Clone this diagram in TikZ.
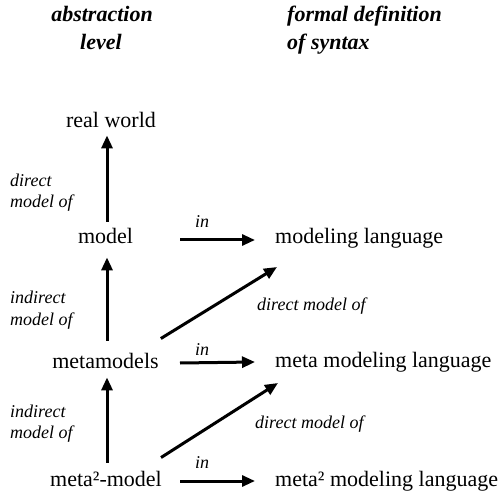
\documentclass[tikz,border=0pt]{standalone}
\usepackage{fontspec}
\setmainfont{Liberation Serif}
\usetikzlibrary{arrows.meta}
\begin{document}
\begin{tikzpicture}[x=1pt,y=-1pt,
  term/.style={inner sep=0pt, font=\fontsize{22}{26}\selectfont},
  lab/.style={inner sep=0pt, anchor=base west, font=\fontsize{18}{22}\selectfont\itshape},
  head/.style={inner sep=0pt, font=\fontsize{22}{26}\selectfont\bfseries\itshape},
  arr/.style={line width=3pt, -{Triangle[length=13pt,width=11pt]}}]
\useasboundingbox (0,0) rectangle (503,494);
% headers
\node[head, anchor=base] (h1) at (102,22) {abstraction};
\node[head, anchor=base] (h2) at (101,50) {level};
\node[head, anchor=base west] (h3) at (287,22) {formal definition};
\node[head, anchor=base west] (h4) at (287,50) {of syntax};
% terms
\node[term, anchor=base] (rw) at (111,128) {real world};
\node[term, anchor=base] (model) at (105.5,244) {model};
\node[term, anchor=base] (mm) at (105.5,368) {metamodels};
\node[term, anchor=base] (m2) at (106,486) {meta²-model};
\node[term, anchor=base west] (ml) at (275,244) {modeling language};
\node[term, anchor=base west] (mml) at (275,367) {meta modeling language};
\node[term, anchor=base west] (m2ml) at (275,486) {meta² modeling language};
% labels
\node[lab] (l1a) at (10,187) {direct};
\node[lab] (l1b) at (10,208) {model of};
\node[lab] (l2a) at (10,303) {indirect};
\node[lab] (l2b) at (10,325) {model of};
\node[lab] (l3a) at (10,417) {indirect};
\node[lab] (l3b) at (10,438) {model of};
\node[lab] (in1) at (195,228) {in};
\node[lab] (in2) at (195,355) {in};
\node[lab] (in3) at (195,468) {in};
\node[lab] (d1) at (257,310) {direct model of};
\node[lab] (d2) at (255,428) {direct model of};
% vertical arrows
\coordinate (axis) at (107,0);
\draw[arr, shorten <=7pt, shorten >=7pt] (axis |- model.north) -- (axis |- rw.south);
\draw[arr, shorten <=12pt, shorten >=13pt] (axis |- mm.north) -- (axis |- model.south);
\draw[arr, shorten <=8pt, shorten >=9pt] (axis |- m2.north) -- (axis |- mm.south);
% horizontal arrows
\coordinate (hs) at (180,0);
\coordinate (he) at (255,0);
\draw[arr] ([yshift=4pt]hs |- model.base) -- ([yshift=4pt]he |- ml.base);
\draw[arr] ([yshift=5pt]hs |- mm.base) -- ([yshift=5pt]he |- mml.base);
\draw[arr] ([yshift=5pt]hs |- m2.base) -- ([yshift=5pt]he |- m2ml.base);
% diagonal arrows
\draw[arr] ([shift={(2pt,14pt)}]mm.north east) -- ([shift={(2pt,-23pt)}]ml.base west);
\draw[arr] ([shift={(-1pt,13pt)}]m2.north east) -- ([shift={(3pt,-16pt)}]mml.base west);
\end{tikzpicture}
\end{document}
